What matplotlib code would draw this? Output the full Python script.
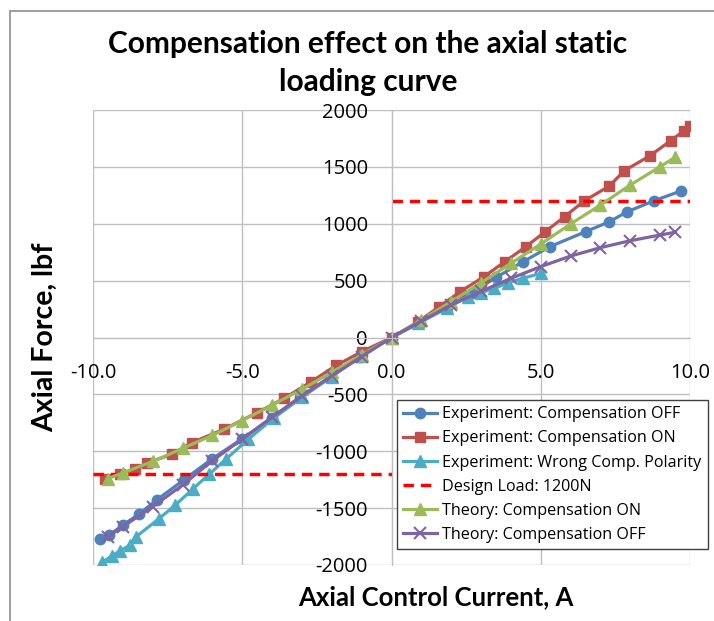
import matplotlib.pyplot as plt
from matplotlib.patches import Rectangle

plt.rcParams['font.family'] = ['Open Sans', 'DejaVu Sans']
plt.rcParams['axes.unicode_minus'] = False

# Experiment: Compensation OFF
exp_off_x = [-9.75, -9.45, -9.0, -8.45, -7.85, -6.95, -6.0, -5.0, -4.0, -3.05, -2.05, -1.05,
             0, 0.95, 1.85, 2.7, 3.5, 4.4, 5.3, 6.5, 7.3, 7.9, 8.8, 9.7]
exp_off_y = [-1775, -1735, -1650, -1550, -1425, -1250, -1065, -890, -705, -520, -345, -170,
             0, 130, 262, 395, 528, 665, 798, 930, 1018, 1106, 1203, 1288]

# Experiment: Compensation ON
exp_on_x = [-9.6, -9.1, -8.6, -8.2, -7.35, -6.7, -5.6, -4.5, -3.6, -2.7, -1.85, -1.0,
            0, 0.9, 1.6, 2.3, 3.1, 3.8, 4.5, 5.15, 5.8, 6.45, 7.3, 7.8, 8.65, 9.35, 9.8, 10.0]
exp_on_y = [-1240, -1200, -1160, -1105, -1025, -925, -805, -660, -535, -390, -245, -125,
            0, 139, 271, 403, 535, 667, 798, 930, 1062, 1200, 1332, 1467, 1596, 1730, 1818, 1859]

# Experiment: Wrong Comp. Polarity
wrong_x = [-9.7, -9.35, -9.1, -8.75, -8.55, -7.8, -7.25, -6.65, -6.1, -5.55, -4.8, -3.95,
           -3.0, -2.0, -1.05, 0, 0.9, 1.85, 2.55, 3.0, 3.45, 3.9, 4.4, 5.0]
wrong_y = [-1975, -1920, -1875, -1825, -1750, -1595, -1475, -1330, -1200, -1070, -895, -710,
           -525, -345, -160, 0, 130, 255, 360, 395, 432, 482, 520, 564]

# Design load (two segments)
design_x = [-10, 0, None, 0, 10]
design_y = [-1200, -1200, None, 1200, 1200]

# Theory curves
theory_x = [-9.5, -9, -8, -7, -6, -5, -4, -3, -2, -1, 0, 1, 2, 3, 4, 5, 6, 7, 8, 9, 9.5]
theory_on_y = [-1240, -1190, -1090, -975, -860, -730, -595, -455, -305, -155, 0,
               154, 315, 482, 652, 822, 998, 1165, 1341, 1502, 1584]
theory_off_y = [-1751, -1663, -1487, -1297, -1083, -893, -700, -515, -338, -168, 0,
                145, 286, 405, 520, 623, 716, 790, 851, 901, 925]

W, H = 714, 621
fig = plt.figure(figsize=(W / 100, H / 100), dpi=100)
ax = fig.add_axes([93 / W, 1 - 565 / H, (690 - 93) / W, (565 - 110) / H])

# chart border
fig.patches.append(Rectangle((10 / W, -0.1), 1.2, 1.1 - 11 / H, transform=fig.transFigure,
                             fill=False, edgecolor='#8c8c8c', lw=1.2))

lw = 2.3
ax.plot(exp_off_x, exp_off_y, color='#4F81BD', lw=lw, marker='o', ms=7.5,
        label='Experiment: Compensation OFF')
ax.plot(exp_on_x, exp_on_y, color='#C0504D', lw=lw, marker='s', ms=7.5,
        label='Experiment: Compensation ON')
ax.plot(wrong_x, wrong_y, color='#4BACC6', lw=lw, marker='^', ms=9,
        label='Experiment: Wrong Comp. Polarity')
ax.plot(design_x, design_y, color='#FF0000', lw=2.5, ls=(0, (3, 2)),
        label='Design Load: 1200N')
ax.plot(theory_x, theory_on_y, color='#9BBB59', lw=lw, marker='^', ms=9,
        label='Theory: Compensation ON')
ax.plot(theory_x, theory_off_y, color='#8064A2', lw=lw, marker='x', ms=8, mew=1.5,
        label='Theory: Compensation OFF')

ax.set_xlim(-10, 10)
ax.set_ylim(-2000, 2000)
ax.set_xticks([-10, -5, 0, 5, 10])
ax.set_yticks(range(-2000, 2001, 500))
ax.set_xticklabels([f'{v:.1f}' for v in [-10, -5, 0, 5, 10]])
ax.grid(True, color='#bfbfbf', lw=1)
ax.set_axisbelow(True)
for s in ['top', 'right']:
    ax.spines[s].set_visible(False)
ax.spines['left'].set_position('zero')
ax.spines['bottom'].set_position('zero')
ax.spines['left'].set_color('#bfbfbf')
ax.spines['bottom'].set_color('#bfbfbf')
ax.tick_params(axis='both', length=0, labelsize=14.5, colors='black')
ax.tick_params(axis='y', pad=17)
ax.tick_params(axis='x', pad=18)

fig.text(368 / W, 1 - 63 / H, 'Compensation effect on the axial static\nloading curve',
         ha='center', va='center', fontsize=21.5, fontweight='bold', linespacing=1.45,
         family=['Lato', 'DejaVu Sans'])
fig.text(436 / W, 1 - 597 / H, 'Axial Control Current, A', ha='center', va='center',
         fontsize=18.5, fontweight='bold', family=['Lato', 'DejaVu Sans'])
fig.text(45 / W, 1 - 337 / H, 'Axial Force, lbf', ha='center', va='center',
         fontsize=20.5, fontweight='bold', rotation=90, family=['Lato', 'DejaVu Sans'])

leg = ax.legend(loc='upper left', bbox_to_anchor=(397 / W, 1 - 400 / H),
                bbox_transform=fig.transFigure, fontsize=11.6, frameon=True,
                fancybox=False, framealpha=1, edgecolor='#404040',
                handlelength=2.1, handletextpad=0.3, labelspacing=0.5,
                borderpad=0.4, borderaxespad=0)
leg.get_frame().set_linewidth(1)

fig.savefig('out.png', dpi=100)
